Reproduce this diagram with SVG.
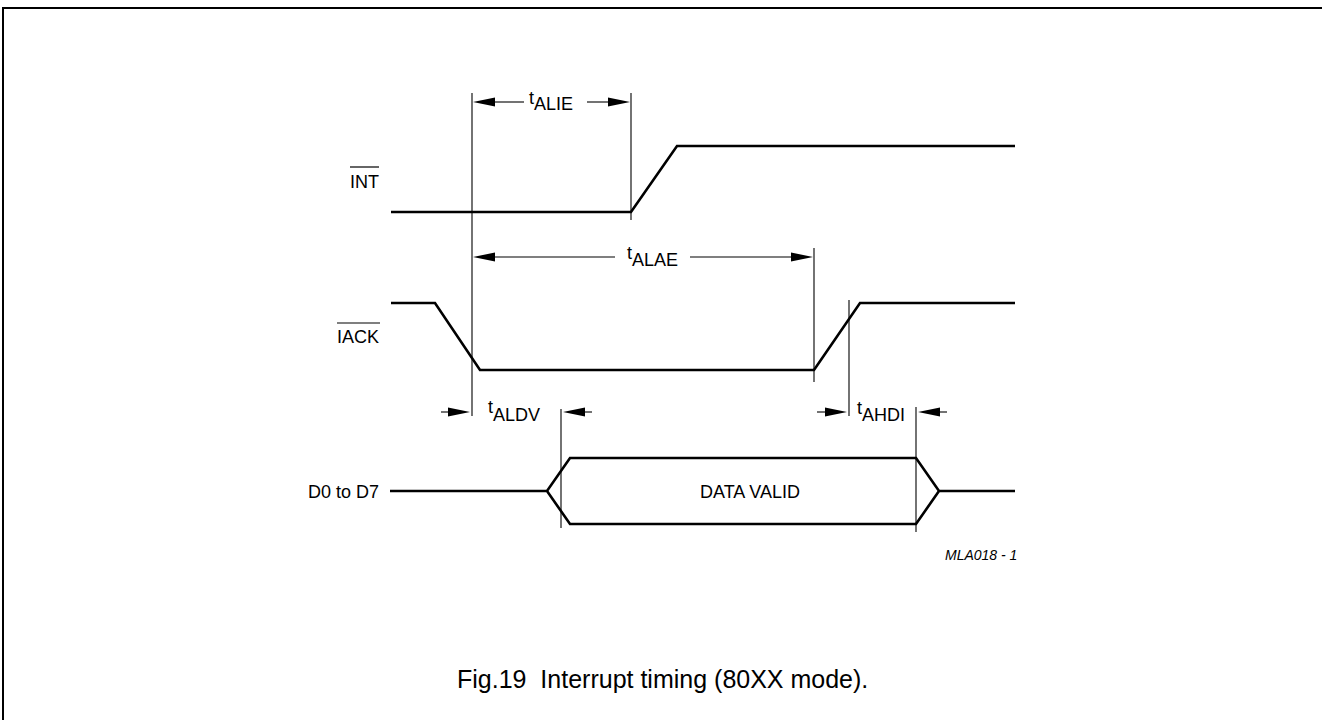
<svg xmlns="http://www.w3.org/2000/svg" width="1322" height="720" viewBox="0 0 1322 720">
<style>
.t{font-family:"Liberation Sans",Arial,sans-serif;font-size:18px;fill:#000}
.sig{fill:none;stroke:#000;stroke-width:2.6;stroke-linejoin:miter}
.thin{fill:none;stroke:#000;stroke-width:1.1}
.ah{fill:#000;stroke:none}
</style>
<rect width="1322" height="720" fill="#fff"/>
<path d="M3 720 V8 H1322" fill="none" stroke="#000" stroke-width="2"/>
<g id="connectors">
<!-- vertical reference lines -->
<line class="thin" x1="472" y1="93" x2="472" y2="416"/>
<line class="thin" x1="631" y1="93" x2="631" y2="220"/>
<line class="thin" x1="814" y1="248" x2="814" y2="382"/>
<line class="thin" x1="849" y1="300" x2="849" y2="416"/>
<line class="thin" x1="561" y1="409" x2="561" y2="528"/>
<line class="thin" x1="916" y1="407" x2="916" y2="532"/>
<!-- tALIE -->
<line class="thin" x1="492" y1="102" x2="524" y2="102"/>
<polygon class="ah" points="473,102 495,97.5 495,106.5"/>
<line class="thin" x1="587" y1="102" x2="611" y2="102"/>
<polygon class="ah" points="630,102 608,97.5 608,106.5"/>
<!-- tALAE -->
<line class="thin" x1="492" y1="257" x2="615" y2="257"/>
<polygon class="ah" points="473,257 495,252.5 495,261.5"/>
<line class="thin" x1="690" y1="257" x2="795" y2="257"/>
<polygon class="ah" points="813,257 791,252.5 791,261.5"/>
<!-- tALDV -->
<line class="thin" x1="441" y1="412" x2="452" y2="412"/>
<polygon class="ah" points="470,412 448,407.5 448,416.5"/>
<line class="thin" x1="580" y1="412" x2="592" y2="412"/>
<polygon class="ah" points="563,412 585,407.5 585,416.5"/>
<!-- tAHDI -->
<line class="thin" x1="817" y1="412" x2="830" y2="412"/>
<polygon class="ah" points="847,412 825,407.5 825,416.5"/>
<line class="thin" x1="935" y1="412" x2="947" y2="412"/>
<polygon class="ah" points="918,412 940,407.5 940,416.5"/>
</g>
<g id="int">
<path class="sig" d="M391 212 H631 L677 146 H1015"/>
<text class="t" x="350" y="188">INT</text>
<line x1="350" y1="167" x2="379" y2="167" stroke="#000" stroke-width="1.2"/>
</g>
<g id="iack">
<path class="sig" d="M391 303 H435 L480 370 H814 L860 303 H1015"/>
<text class="t" x="337" y="343">IACK</text>
<line x1="337" y1="323" x2="380" y2="323" stroke="#000" stroke-width="1.2"/>
</g>
<g id="data">
<path class="sig" d="M390 491 H547 L570 458 H916 L939 491 H1015 M547 491 L570 524 H916 L939 491"/>
<text class="t" x="308" y="498">D0 to D7</text>
<text class="t" x="700" y="498">DATA VALID</text>
</g>
<g id="labels">
<text class="t" x="529" y="104">t<tspan y="110">ALIE</tspan></text>
<text class="t" x="627" y="259">t<tspan y="266">ALAE</tspan></text>
<text class="t" x="488" y="413">t<tspan y="421">ALDV</tspan></text>
<text class="t" x="857" y="414">t<tspan y="421">AHDI</tspan></text>
<text class="t" x="945" y="560" style="font-size:14px;font-style:italic">MLA018 - 1</text>
<text class="t" x="457" y="688" style="font-size:25px;white-space:pre">Fig.19  Interrupt timing (80XX mode).</text>
</g>
</svg>
